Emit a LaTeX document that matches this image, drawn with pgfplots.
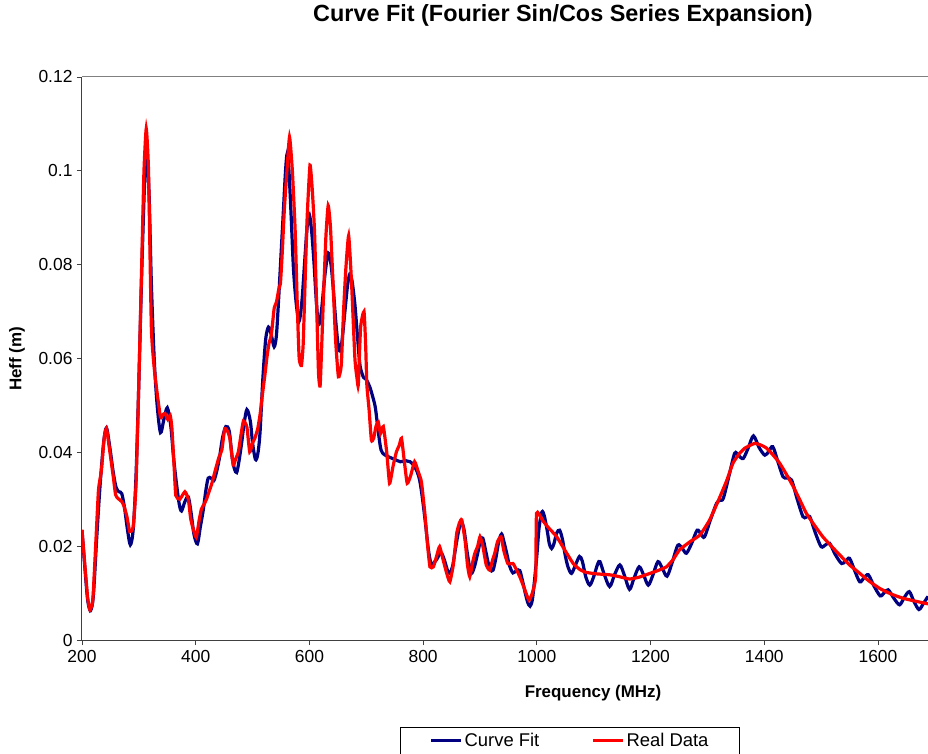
\documentclass[border=0pt]{standalone}
\usepackage{fontspec}
\setmainfont{Liberation Sans}
\usepackage{pgfplots}
\pgfplotsset{compat=1.18}
\definecolor{fitblue}{RGB}{0,0,128}
\definecolor{axisgray}{RGB}{64,64,64}

\begin{document}
\begin{tikzpicture}
\begin{axis}[
    name=ax,
    scale only axis,
    width=846bp, height=563bp,
    xmin=200, xmax=1688,
    ymin=0, ymax=0.12,
    axis x line*=bottom,
    axis y line*=left,
    axis line style={axisgray, line width=1bp},
    xtick={200,400,...,1600},
    ytick={0,0.02,0.04,0.06,0.08,0.1,0.12},
    yticklabels={0,0.02,0.04,0.06,0.08,0.1,0.12},
    scaled y ticks=false,
    tick align=outside,
    major tick length=5bp,
    tick style={axisgray, line width=0.8bp},
    /pgf/number format/assume math mode=true,
    /pgf/number format/set thousands separator={},
    tick label style={font=\fontsize{17.5}{20}\selectfont, black},
    xticklabel style={yshift=-2bp},
    yticklabel style={xshift=-1bp},
    legend columns=2,
    legend style={at={(0.3759,-0.1545)}, anchor=north west, draw=black,
        line width=0.8bp, font=\fontsize{18.5}{21}\selectfont,
        inner xsep=29bp, inner ysep=4bp},
    legend image code/.code={\draw[#1] (0bp,0bp) -- (30bp,0bp);},
    /tikz/every even column/.append style={column sep=50bp},
]
\draw[gray, line width=1bp] (rel axis cs:0,1) -- (rel axis cs:1,1);

\addplot[fitblue, line width=3.2bp, smooth, tension=0.5] coordinates {
(200,0.0234) (205,0.0155) (210,0.0085) (215,0.0063) (220,0.0095) (226,0.022)
(232,0.0333) (238,0.042) (243,0.0452) (249,0.041) (255,0.0357) (260,0.0325)
(265,0.0316) (270,0.0312) (275,0.028) (280,0.0235) (285,0.0203) (290,0.0235)
(295,0.035) (300,0.055) (305,0.078) (310,0.097) (314,0.1029) (318,0.095)
(322,0.076) (327,0.060) (332,0.0503) (338,0.0442) (344,0.047) (350,0.0495)
(356,0.0458) (361,0.039) (366,0.0335) (371,0.029) (375,0.0275) (381,0.0295)
(387,0.0305) (392,0.027) (397,0.0225) (403,0.0205) (408,0.024) (413,0.0275)
(418,0.032) (422,0.0345) (427,0.0345) (432,0.034) (437,0.036) (442,0.039)
(447,0.043) (453,0.0455) (459,0.0445) (464,0.039) (468,0.0365) (472,0.0357)
(476,0.038) (481,0.0422) (485,0.046) (490,0.0491) (496,0.0467) (500,0.042)
(505,0.0385) (509,0.0395) (513,0.044) (518,0.0555) (523,0.064) (528,0.0667)
(533,0.065) (538,0.0625) (542,0.065) (546,0.073) (550,0.082) (554,0.091)
(558,0.100) (561,0.1037) (564,0.100) (568,0.090) (572,0.079) (577,0.0715)
(582,0.068) (587,0.0725) (592,0.0813) (596,0.088) (600,0.0906) (604,0.087)
(608,0.0805) (612,0.0725) (616,0.0672) (621,0.0700) (627,0.0775) (633,0.0825)
(638,0.080) (642,0.0748) (647,0.067) (652,0.0617) (657,0.0635) (662,0.0695)
(667,0.0755) (671,0.0780) (675,0.0765) (680,0.0715) (685,0.064) (689,0.0585)
(695,0.056) (700,0.0555) (706,0.054) (711,0.052) (716,0.0495) (721,0.0445)
(726,0.0405) (732,0.0395) (740,0.039) (750,0.0385) (760,0.038) (770,0.0382)
(777,0.038) (783,0.0373) (789,0.036) (794,0.034) (799,0.030) (804,0.025)
(809,0.0195) (814,0.0162) (819,0.0165) (824,0.0172) (829,0.0183) (833,0.0184)
(838,0.0168) (843,0.0148) (847,0.0142) (852,0.0158) (856,0.0188) (862,0.023)
(867,0.0252) (872,0.0235) (876,0.0199) (881,0.016) (885,0.0142) (890,0.0155)
(896,0.0185) (901,0.0213) (905,0.0217) (910,0.019) (914,0.0167) (918,0.015)
(923,0.0149) (928,0.0175) (933,0.021) (938,0.0226) (942,0.021) (947,0.0185)
(952,0.0158) (958,0.0143) (964,0.0148) (970,0.0148) (975,0.0125) (980,0.0098)
(984,0.008) (988,0.0072) (992,0.0085) (996,0.0128) (1000,0.018) (1004,0.024)
(1009,0.0273) (1013,0.0265) (1018,0.0235) (1022,0.0205) (1026,0.0195) (1030,0.0205)
(1035,0.0228) (1040,0.0234) (1045,0.0215) (1050,0.018) (1055,0.0155) (1061,0.0142)
(1068,0.0160) (1075,0.0178) (1080,0.0168) (1086,0.0135) (1093,0.0117) (1100,0.0135)
(1107,0.0162) (1111,0.0167) (1118,0.0142) (1128,0.0114) (1137,0.0140) (1146,0.016)
(1154,0.0138) (1163,0.0108) (1171,0.0132) (1180,0.0156) (1188,0.0138) (1196,0.0117)
(1204,0.0138) (1213,0.0167) (1221,0.0152) (1229,0.0136) (1238,0.0165) (1248,0.0202)
(1256,0.0195) (1263,0.0185) (1272,0.0205) (1282,0.0234) (1289,0.0225) (1295,0.0220)
(1305,0.0255) (1316,0.0291) (1322,0.0298) (1328,0.0302) (1338,0.035) (1348,0.0398)
(1355,0.0393) (1363,0.0387) (1372,0.041) (1381,0.0435) (1391,0.041) (1401,0.0394)
(1408,0.0402) (1415,0.0412) (1424,0.038) (1433,0.0348) (1440,0.0345) (1448,0.0341)
(1458,0.030) (1468,0.0263) (1474,0.0262) (1480,0.0263) (1490,0.0228) (1500,0.0199)
(1508,0.0203) (1515,0.0206) (1525,0.0182) (1536,0.0163) (1543,0.0168) (1550,0.0174)
(1559,0.0148) (1568,0.0124) (1575,0.0132) (1583,0.0139) (1593,0.0115) (1604,0.0094)
(1611,0.0101) (1618,0.0107) (1628,0.0089) (1638,0.0075) (1646,0.0090) (1655,0.0103)
(1663,0.0083) (1672,0.0065) (1680,0.0078) (1688,0.0093)
};
\addlegendentry{Curve Fit}

\addplot[red, line width=3.2bp, smooth, tension=0.3] coordinates {
(200,0.0235) (205,0.016) (210,0.009) (214,0.0064) (219,0.0085) (224,0.020)
(229,0.032) (234,0.036) (239,0.043) (243,0.0451) (248,0.041) (255,0.0348)
(259,0.031) (263,0.0302) (270,0.0295) (274,0.0285) (279,0.0263) (284,0.0231)
(290,0.0241) (295,0.033) (300,0.055) (305,0.080) (309,0.100) (313,0.109)
(317,0.100) (322,0.0666) (327,0.058) (332,0.0528) (338,0.0475) (342,0.048)
(346,0.0483) (351,0.047) (355,0.0479) (358,0.0454) (362,0.037) (365,0.0308)
(372,0.030) (381,0.0316) (387,0.030) (391,0.026) (395,0.0239) (401,0.0219)
(406,0.0255) (410,0.0279) (415,0.029) (419,0.030) (424,0.0318) (428,0.0332)
(433,0.0355) (437,0.0373) (441,0.039) (446,0.0405) (451,0.045) (456,0.0445)
(460,0.043) (466,0.0373) (470,0.0385) (475,0.0401) (480,0.044) (484,0.0467)
(490,0.0454) (495,0.0401) (500,0.042) (504,0.043) (509,0.045) (513,0.0479)
(517,0.052) (522,0.0568) (525,0.060) (529,0.0633) (533,0.065) (538,0.0707)
(542,0.072) (546,0.0747) (549,0.076) (552,0.0821) (556,0.092) (560,0.0992)
(565,0.1072) (570,0.100) (575,0.087) (579,0.070) (582,0.060) (586,0.0585)
(589,0.063) (592,0.0748) (596,0.090) (601,0.1012) (605,0.096) (609,0.087)
(613,0.070) (616,0.0569) (619,0.0544) (624,0.0708) (629,0.086) (633,0.0926)
(637,0.088) (642,0.0748) (646,0.064) (651,0.0561) (656,0.0585) (660,0.070)
(664,0.079) (669,0.0862) (674,0.0764) (680,0.060) (684,0.0555) (686,0.0544)
(690,0.0666) (696,0.0700) (699,0.0625) (701,0.0544) (705,0.049) (709,0.0426)
(713,0.043) (717,0.0455) (721,0.0465) (725,0.044) (730,0.0455) (736,0.040)
(741,0.0334) (747,0.037) (753,0.0401) (758,0.0415) (762,0.043) (767,0.038)
(772,0.0334) (778,0.035) (785,0.038) (791,0.036) (797,0.0337) (803,0.027)
(808,0.020) (812,0.0156) (818,0.0156) (824,0.018) (829,0.0199) (836,0.0167)
(842,0.014) (847,0.0124) (853,0.016) (859,0.0227) (864,0.025) (868,0.0256)
(874,0.021) (878,0.016) (882,0.0135) (887,0.0165) (891,0.0185) (896,0.020)
(900,0.022) (905,0.020) (911,0.016) (917,0.0149) (922,0.017) (926,0.0185)
(931,0.021) (937,0.022) (942,0.019) (949,0.0163) (958,0.0163) (964,0.015)
(970,0.0135) (978,0.011) (986,0.0085) (992,0.010) (998,0.0135) (999.5,0.027)
(1010,0.0255) (1020,0.024) (1035,0.022) (1050,0.019) (1064,0.0163) (1076,0.015)
(1087,0.0144) (1105,0.0141) (1128,0.0139) (1145,0.0135) (1163,0.013) (1180,0.0134)
(1199,0.0142) (1215,0.0149) (1228,0.0156) (1240,0.0172) (1251,0.0192) (1270,0.021)
(1287,0.0224) (1304,0.0256) (1322,0.0305) (1334,0.034) (1345,0.0377) (1356,0.0397)
(1366,0.0409) (1383,0.0419) (1395,0.0415) (1404,0.0409) (1415,0.0395) (1427,0.0377)
(1439,0.0353) (1451,0.0327) (1462,0.030) (1474,0.027) (1488,0.0245) (1503,0.022)
(1518,0.020) (1533,0.0181) (1550,0.016) (1568,0.0142) (1585,0.0125) (1603,0.011)
(1623,0.0098) (1644,0.0089) (1665,0.0083) (1688,0.0077)
};
\addlegendentry{Real Data}
\end{axis}
\node[font=\bfseries\fontsize{23.5}{26}\selectfont] at ([shift={(481bp,625bp)}]ax.south west)
    {Curve Fit (Fourier Sin/Cos Series Expansion)};
\node[font=\bfseries\fontsize{17}{20}\selectfont] at ([shift={(511bp,-53bp)}]ax.south west)
    {Frequency (MHz)};
\node[font=\bfseries\fontsize{17}{20}\selectfont, rotate=90] at ([shift={(-65bp,281bp)}]ax.south west)
    {Heff (m)};
\pgfresetboundingbox
\path[use as bounding box] ([shift={(-82bp,-114bp)}]ax.south west) rectangle ([shift={(846bp,640bp)}]ax.south west);
\end{tikzpicture}
\end{document}
